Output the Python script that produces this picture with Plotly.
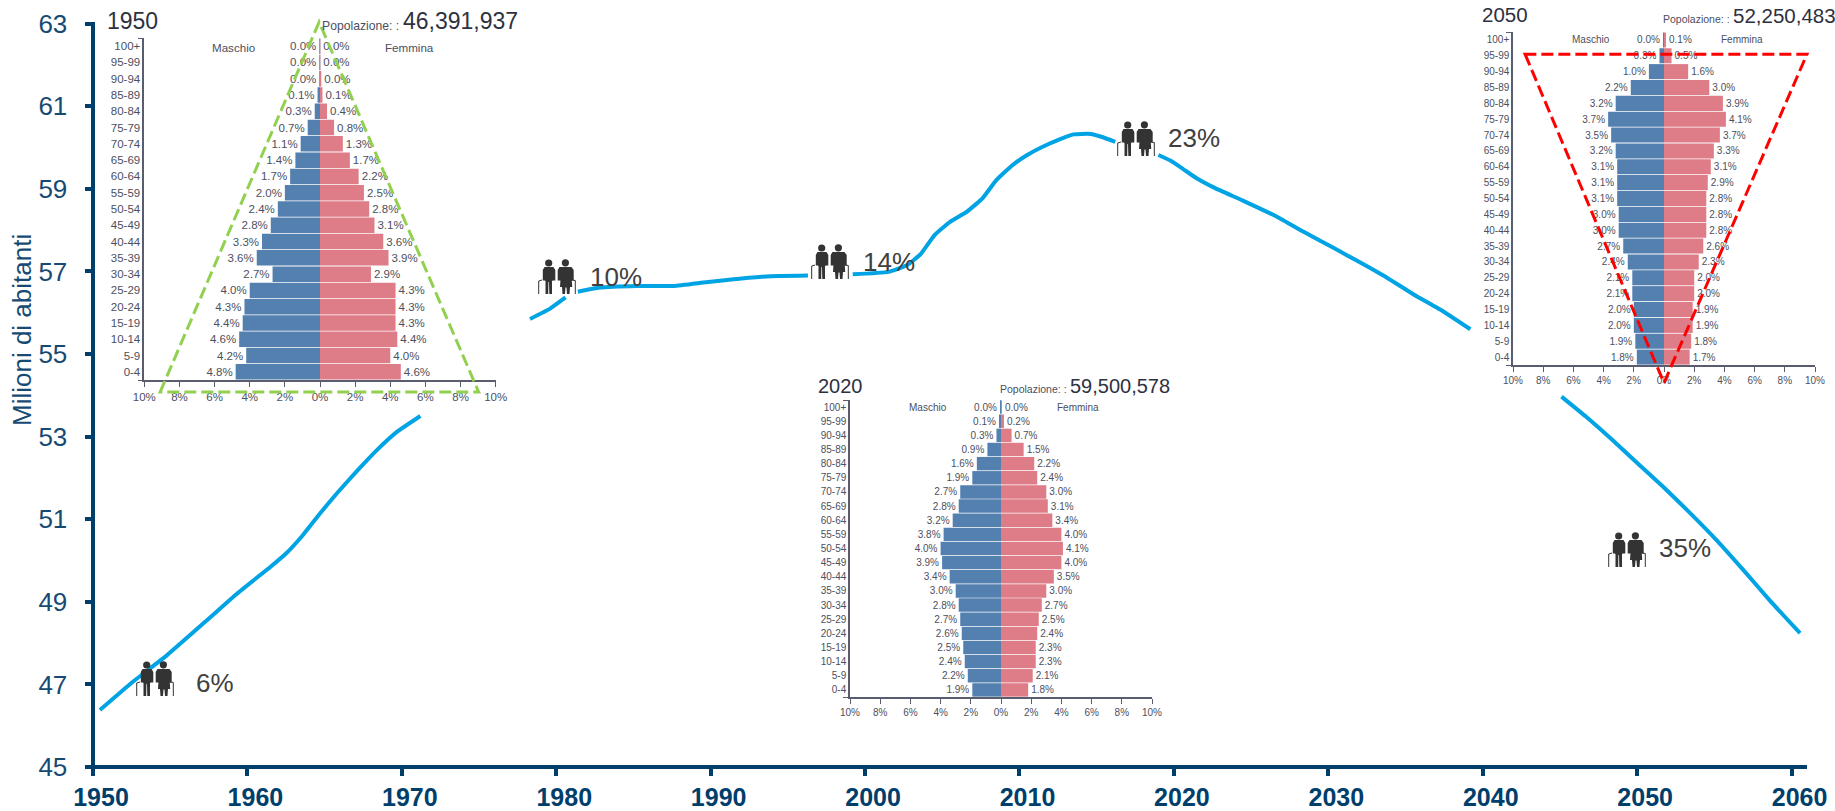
import plotly.graph_objects as go

# ---------- data ----------
years_a = [1950.45, 1952.6, 1954.8, 1957.4, 1959.3, 1961.5, 1962.5, 1963.6, 1964.7, 1965.8, 1967.1, 1968.4, 1969.7, 1971.2]
pop_a = [46.38, 47.07, 47.71, 48.56, 49.19, 49.85, 50.17, 50.62, 51.14, 51.63, 52.17, 52.68, 53.12, 53.50]
years_b = [1978.3, 1979.6, 1980.6]
pop_b = [55.85, 56.10, 56.37]
years_c = [1981.4, 1982.8, 1985.2, 1987.6, 1989.7, 1991.5, 1993.6, 1996.3]
pop_c = [56.51, 56.61, 56.65, 56.65, 56.74, 56.81, 56.88, 56.90]
years_d = [1999.2, 2001.5, 2002.7, 2003.6, 2004.5, 2005.5, 2006.6, 2007.6, 2008.5, 2009.5, 2010.5, 2011.5, 2012.6, 2013.5, 2014.6, 2015.4, 2016.2]
pop_d = [56.93, 56.99, 57.15, 57.42, 57.88, 58.20, 58.45, 58.77, 59.21, 59.56, 59.82, 60.02, 60.20, 60.32, 60.33, 60.25, 60.14]
years_e = [2019.0, 2019.8, 2020.6, 2021.5, 2022.6, 2024.5, 2026.7, 2028.4, 2030.3, 2032.1, 2033.8, 2035.5, 2037.5, 2039.2]
pop_e = [59.82, 59.68, 59.48, 59.25, 59.03, 58.71, 58.32, 57.96, 57.58, 57.21, 56.85, 56.45, 56.02, 55.60]
years_f = [2045.1, 2046.7, 2048.4, 2049.9, 2051.7, 2053.4, 2055.2, 2056.9, 2058.6, 2060.55]
pop_f = [53.97, 53.48, 52.92, 52.40, 51.78, 51.16, 50.47, 49.76, 49.03, 48.24]

x_ticks = list(range(1950, 2061, 10))
y_ticks = list(range(45, 64, 2))

ages = ["0-4", "5-9", "10-14", "15-19", "20-24", "25-29", "30-34", "35-39", "40-44", "45-49", "50-54",
        "55-59", "60-64", "65-69", "70-74", "75-79", "80-84", "85-89", "90-94", "95-99", "100+"]
pct_ticks = [-10, -8, -6, -4, -2, 0, 2, 4, 6, 8, 10]
pct_labels = ["10%", "8%", "6%", "4%", "2%", "0%", "2%", "4%", "6%", "8%", "10%"]

male_1950 = [4.8, 4.2, 4.6, 4.4, 4.3, 4.0, 2.7, 3.6, 3.3, 2.8, 2.4, 2.0, 1.7, 1.4, 1.1, 0.7, 0.3, 0.14, 0.04, 0.01, 0.003]
female_1950 = [4.6, 4.0, 4.4, 4.3, 4.3, 4.3, 2.9, 3.9, 3.6, 3.1, 2.8, 2.5, 2.2, 1.7, 1.3, 0.8, 0.4, 0.14, 0.04, 0.01, 0.004]
male_2020 = [1.9, 2.2, 2.4, 2.5, 2.6, 2.7, 2.8, 3.0, 3.4, 3.9, 4.0, 3.8, 3.2, 2.8, 2.7, 1.9, 1.6, 0.9, 0.3, 0.1, 0.01]
female_2020 = [1.8, 2.1, 2.3, 2.3, 2.4, 2.5, 2.7, 3.0, 3.5, 4.0, 4.1, 4.0, 3.4, 3.1, 3.0, 2.4, 2.2, 1.5, 0.7, 0.2, 0.03]
male_2050 = [1.8, 1.9, 2.0, 2.0, 2.1, 2.1, 2.4, 2.7, 3.0, 3.0, 3.1, 3.1, 3.1, 3.2, 3.5, 3.7, 3.2, 2.2, 1.0, 0.3, 0.04]
female_2050 = [1.7, 1.8, 1.9, 1.9, 2.0, 2.0, 2.3, 2.6, 2.8, 2.8, 2.8, 2.9, 3.1, 3.3, 3.7, 4.1, 3.9, 3.0, 1.6, 0.5, 0.1]

tri_1950_x = [-9.1, -0.05, 9.03]
tri_1950_y = [-1.24, 21.48, -1.24]
tri_2050_x = [-9.2, 0.0, 9.47]
tri_2050_y = [19.1, -1.63, 19.1]

# ---------- style and layout ----------
W, H = 1835, 811
FONT = "Liberation Sans"
NAVY = "#003e6b"
TICKBLUE = "#174a73"
LINE = "#00a3e3"
MALE = "#5480b0"
FEMALE = "#de7c88"
PYR_TEXT = "#4c4f60"
HEAD_TEXT = "#2e3140"
DARK = "#404040"
BOX_1950 = (144.3, 495.7, 38, 380)
BOX_2020 = (850, 1152, 400, 697)
BOX_2050 = (1513, 1815, 32, 365)


def px(x):
    return x / W


def py(y):
    return 1 - y / H


fig = go.Figure()

# main line, broken where the reference has it hidden behind insets and icons
line_x, line_y = [], []
for xs, ys in [(years_a, pop_a), (years_b, pop_b), (years_c, pop_c), (years_d, pop_d), (years_e, pop_e), (years_f, pop_f)]:
    line_x += xs + [None]
    line_y += ys + [None]
fig.add_trace(go.Scatter(x=line_x, y=line_y, mode="lines", xaxis="x", yaxis="y",
                         line=dict(color=LINE, width=4, shape="spline", smoothing=0.4), connectgaps=False,
                         hoverinfo="skip", showlegend=False))

layout = dict(
    template="none",
    width=W, height=H, autosize=False, margin=dict(l=0, r=0, t=0, b=0, pad=0),
    paper_bgcolor="white", plot_bgcolor="white", showlegend=False,
    barmode="overlay", bargap=0.05, font=dict(family=FONT),
    xaxis=dict(domain=[px(93), px(1807)], range=[1950, 2061], anchor="y", tickmode="array", tickvals=x_ticks,
               ticktext=[str(v) for v in x_ticks], ticks="outside", ticklen=8, tickwidth=3.5, tickcolor=NAVY,
               showgrid=False, zeroline=False, showline=False, ticklabelshift=8, ticklabelstandoff=0, automargin=False,
               tickfont=dict(family=FONT, size=25, color=NAVY, weight="bold")),
    yaxis=dict(domain=[py(767), py(23.7)], range=[45, 63], anchor="x", tickmode="array", tickvals=y_ticks,
               ticktext=[str(v) for v in y_ticks], ticks="outside", ticklen=7.5, tickwidth=3.5, tickcolor=NAVY,
               showgrid=False, zeroline=False, showline=False, ticklabelstandoff=12, automargin=False,
               tickfont=dict(family=FONT, size=26, color=TICKBLUE)),
)

shapes = [
    dict(type="line", xref="paper", yref="paper", x0=px(93), x1=px(93), y0=py(775), y1=py(22), line=dict(color=NAVY, width=4), layer="above"),
    dict(type="line", xref="paper", yref="paper", x0=px(86), x1=px(1807), y0=py(767), y1=py(767), line=dict(color=NAVY, width=4), layer="above"),
]
annotations = [
    dict(text="Milioni di abitanti", xref="paper", yref="paper", x=px(22), y=py(330), textangle=-90, showarrow=False,
         xanchor="center", yanchor="middle", font=dict(family=FONT, size=26, color=TICKBLUE)),
]


def add_pyramid(n, male, female, box, fs, header):
    left, right, top, bottom = box
    xa, ya = f"x{n}", f"y{n}"
    for vals, sign, col in ((male, -1, MALE), (female, 1, FEMALE)):
        fig.add_trace(go.Bar(y=list(range(len(ages))), x=[sign * v for v in vals], orientation="h",
                             xaxis=xa, yaxis=ya, marker=dict(color=col, line=dict(width=0)),
                             text=[f"{v:.1f}%" for v in vals], textposition="outside", constraintext="none",
                             textfont=dict(family=FONT, size=fs, color=PYR_TEXT), cliponaxis=False,
                             hoverinfo="skip", showlegend=False))
    layout[f"xaxis{n}"] = dict(domain=[px(left), px(right)], range=[-10, 10], anchor=ya, tickmode="array",
                               tickvals=pct_ticks, ticktext=pct_labels, ticks="outside", ticklen=5, tickwidth=1.2,
                               tickcolor="#5a5d6e", showline=True, linecolor="#5a5d6e", linewidth=1.5, automargin=False,
                               showgrid=False, zeroline=False, tickfont=dict(family=FONT, size=fs, color=PYR_TEXT))
    layout[f"yaxis{n}"] = dict(domain=[py(bottom), py(top)], range=[-0.5, 20.5], anchor=xa, tickmode="array",
                               tickvals=list(range(len(ages))), ticktext=ages, ticks="", showline=True,
                               linecolor="#5a5d6e", linewidth=1.5, showgrid=False, zeroline=False, automargin=False,
                               minor=dict(tickmode="array", tickvals=[-0.5, 20.5], ticks="outside", ticklen=5,
                                          tickwidth=1.2, tickcolor="#5a5d6e", showgrid=False),
                               tickfont=dict(family=FONT, size=fs, color=PYR_TEXT))
    for text, x, y, size, col in header:
        annotations.append(dict(text=text, xref="paper", yref="paper", x=px(x), y=py(y), showarrow=False,
                                xanchor="left", yanchor="middle", xshift=0, font=dict(family=FONT, size=size, color=col)))


add_pyramid(2, male_1950, female_1950, BOX_1950, 11.5, [
    ("1950", 105, 21, 23, HEAD_TEXT), ("Popolazione: :", 320, 25.7, 12.2, PYR_TEXT), ("46,391,937", 401, 21, 23, HEAD_TEXT),
    ("Maschio", 210, 47, 11.6, PYR_TEXT), ("Femmina", 383, 47, 11.6, PYR_TEXT)])
add_pyramid(3, male_2020, female_2020, BOX_2020, 10, [
    ("2020", 816, 385.7, 20, HEAD_TEXT), ("Popolazione: :", 998, 389, 10.5, PYR_TEXT), ("59,500,578", 1068, 386, 20, HEAD_TEXT),
    ("Maschio", 906.5, 407.7, 10, PYR_TEXT), ("Femmina", 1055, 407.7, 10, PYR_TEXT)])
add_pyramid(4, male_2050, female_2050, BOX_2050, 10, [
    ("2050", 1480, 15, 20.5, HEAD_TEXT), ("Popolazione: :", 1661, 19, 10.5, PYR_TEXT), ("52,250,483", 1731, 15.5, 20.5, HEAD_TEXT),
    ("Maschio", 1570, 40, 10, PYR_TEXT), ("Femmina", 1719, 40, 10, PYR_TEXT)])


def add_triangle(xs, ys, box, col):
    # the dashed outline runs past the inset's axes, so it is placed through the inset's own scale
    left, right, top, bottom = box
    pts = [(left + (a + 10) / 20 * (right - left), bottom - (b + 0.5) / 21 * (bottom - top)) for a, b in zip(xs, ys)]
    path = "M " + " L ".join(f"{px(a):.5f},{py(b):.5f}" for a, b in pts) + " Z"
    shapes.append(dict(type="path", xref="paper", yref="paper", path=path, layer="above",
                       line=dict(color=col, width=3, dash="12px,5px")))


add_triangle(tri_1950_x, tri_1950_y, BOX_1950, "#92d050")
add_triangle(tri_2050_x, tri_2050_y, BOX_2050, "#ff0000")

# elderly-couple pictograms and their percentages
MAN = [(4.8, 11), (6.5, 8), (15.5, 8), (17.3, 11), (17.3, 21.5), (15, 21.5), (14, 22), (14, 35), (11.3, 35), (11, 23),
       (10.4, 23), (10.2, 35), (7.5, 35), (7.5, 22), (6.8, 21.5), (4.8, 21.5)]
WOMAN = [(19.7, 11), (21.5, 8), (33.5, 8), (35.7, 11), (35.7, 21.5), (33.8, 21.5), (34.2, 28), (32, 28), (31.5, 35),
         (29, 35), (28.5, 28.5), (27.5, 28.5), (27, 35), (24.5, 35), (24, 28), (22, 28), (22.4, 21.5), (19.7, 21.5)]
CANE_L = [(0.7, 35), (0.7, 22), (4, 21)]
CANE_R = [(37.3, 35), (37.3, 21.5), (34, 21)]


def pth(points, ox, oy, close):
    s = "M " + " L ".join(f"{px(ox + a):.5f},{py(oy + b):.5f}" for a, b in points)
    return s + (" Z" if close else "")


def add_icon(ox, oy):
    for poly in (MAN, WOMAN):
        shapes.append(dict(type="path", xref="paper", yref="paper", path=pth(poly, ox, oy, True),
                           fillcolor="#333333", line=dict(width=0), layer="above"))
    for cane in (CANE_L, CANE_R):
        shapes.append(dict(type="path", xref="paper", yref="paper", path=pth(cane, ox, oy, False),
                           line=dict(color="#333333", width=1), layer="above"))
    for cx, cy in ((10.7, 4), (27.4, 3.8)):
        shapes.append(dict(type="circle", xref="paper", yref="paper", x0=px(ox + cx - 3.6), x1=px(ox + cx + 3.6),
                           y0=py(oy + cy + 3.6), y1=py(oy + cy - 3.6), fillcolor="#333333", line=dict(width=0), layer="above"))


for text, ix, iy, tx, ty in [("6%", 136, 661, 194, 683), ("10%", 538, 259, 588, 277), ("14%", 811, 244, 861, 262),
                             ("23%", 1117, 121, 1166, 138), ("35%", 1608, 532, 1657, 548)]:
    add_icon(ix, iy)
    annotations.append(dict(text=text, xref="paper", yref="paper", x=px(tx), y=py(ty), showarrow=False,
                            xanchor="left", yanchor="middle", font=dict(family=FONT, size=26, color=DARK)))

layout["shapes"] = shapes
layout["annotations"] = annotations
fig.update_layout(**layout)
fig.write_html("out.html", config={"displayModeBar": False}, post_script="document.body.style.margin='0';")
